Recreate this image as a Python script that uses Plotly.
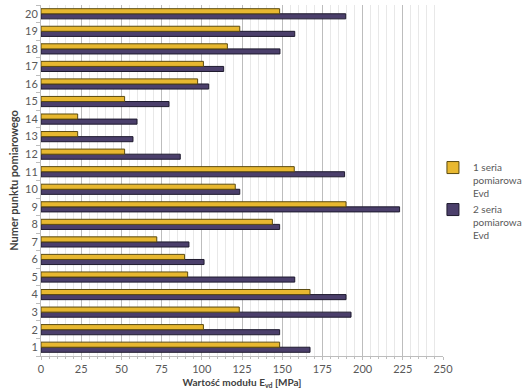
import plotly.graph_objects as go

points = [str(i) for i in range(1, 21)]
seria1 = [148.4, 101, 123.3, 167.3, 91.2, 89.3, 72, 143.9, 189.7, 120.8,
          157.5, 52, 22.8, 22.8, 52, 97.4, 101, 115.9, 123.6, 148.4]
seria2 = [167.3, 148.4, 192.8, 189.7, 157.8, 101.4, 92, 148.4, 223, 123.6,
          188.8, 86.6, 57.2, 59.7, 79.6, 104.3, 113.6, 148.6, 157.8, 189.5]
name1 = "1 seria<br>pomiarowa<br>Evd"
name2 = "2 seria<br>pomiarowa<br>Evd"
x_ticks = [0, 25, 50, 75, 100, 125, 150, 175, 200, 225, 250]

fig = go.Figure()
fig.add_trace(go.Bar(y=points, x=seria2, orientation="h", name=name2,
                     marker=dict(color="#4B3F6B", line=dict(color="#1E1A2E", width=1))))
fig.add_trace(go.Bar(y=points, x=seria1, orientation="h", name=name1,
                     marker=dict(color="#E8B830", line=dict(color="#5A4A10", width=1))))

font = "Lato, 'Open Sans', sans-serif"
fig.update_layout(
    width=524, height=391,
    margin=dict(l=41, r=81, t=5, b=35, autoexpand=False),
    barmode="group", bargap=0.42, bargroupgap=0,
    plot_bgcolor="white", paper_bgcolor="white",
    font=dict(family=font, size=11, color="#595959"),
    legend=dict(x=0.975, y=0.44, xanchor="left", yanchor="middle",
                traceorder="reversed", font=dict(size=10, color="#595959"),
                tracegroupgap=10, itemwidth=30, valign="top",
                bgcolor="rgba(0,0,0,0)"),
    xaxis=dict(range=[0, 250], tickvals=x_ticks, showgrid=True, gridcolor="#BDBDBD",
               gridwidth=1, zeroline=False, showline=True, linecolor="#BDBDBD",
               ticks="outside", ticklen=3, tickcolor="#BDBDBD", automargin=False,
               minor=dict(dtick=5, showgrid=True, gridcolor="#E8E8E8", ticks="outside",
                          ticklen=2, tickcolor="#BDBDBD"),
               tickfont=dict(size=11, color="#595959"),
               title=dict(text="<b>Wartość modułu E<sub>vd</sub> [MPa]</b>",
                          font=dict(size=10, color="#404040"), standoff=4)),
    yaxis=dict(type="category", showline=True, linecolor="#BDBDBD", automargin=False,
               ticks="outside", tickson="boundaries", ticklen=4, tickcolor="#BDBDBD",
               showgrid=False, tickfont=dict(size=11, color="#595959"),
               title=dict(text="<b>Numer punktu pomiarowego</b>",
                          font=dict(size=11, color="#404040"), standoff=4)),
)

fig.write_html("out.html", config={"displayModeBar": False},
               post_script="document.body.style.margin='0';")
